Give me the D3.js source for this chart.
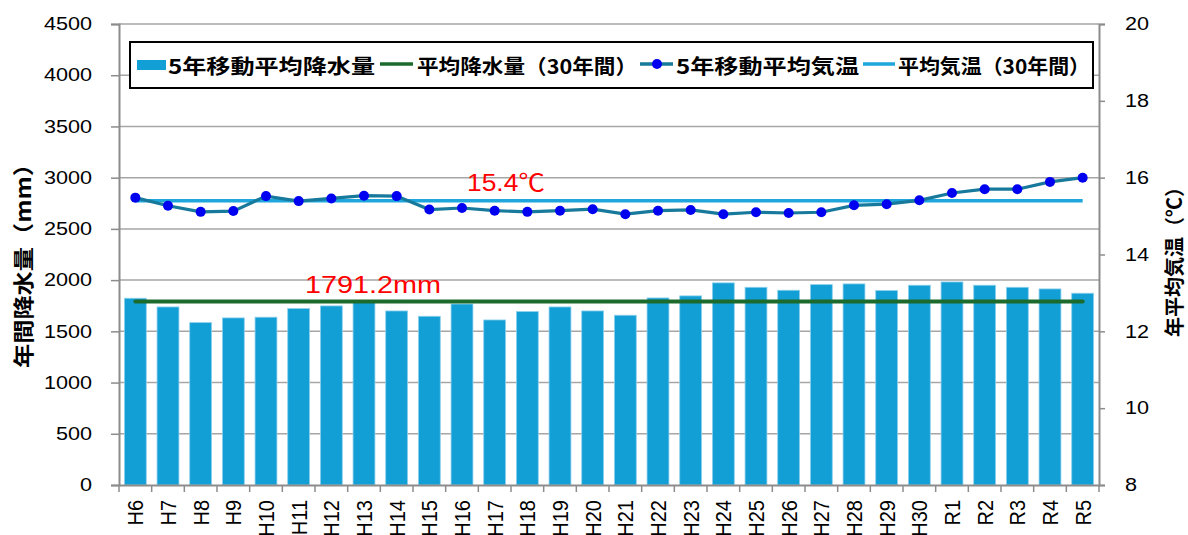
<!DOCTYPE html>
<html>
<head>
<meta charset="utf-8">
<script src="https://cdn.jsdelivr.net/npm/d3@7/dist/d3.min.js"></script>
<style>
  html, body { margin: 0; padding: 0; background: #fff; }
  svg { display: block; }
  text { font-family: "Liberation Sans", Arial, "Noto Sans CJK JP", sans-serif; }
  .cjk { font-family: "Noto Sans CJK JP", "Liberation Sans", sans-serif; }
</style>
</head>
<body>
<svg id="chart" width="1188" height="535"></svg>
<script>
// Fiscal years (Heisei 6 – Reiwa 5)
const categories = ["H6","H7","H8","H9","H10","H11","H12","H13","H14","H15","H16","H17","H18","H19","H20",
  "H21","H22","H23","H24","H25","H26","H27","H28","H29","H30","R1","R2","R3","R4","R5"];

// 5-year moving average of annual precipitation (mm)
const precipitation = [1823,1738,1585,1631,1638,1722,1748,1795,1699,1647,1767,1611,1693,1738,1699,
  1657,1826,1846,1973,1930,1901,1956,1963,1898,1950,1982,1950,1930,1914,1872];

// 5-year moving average of annual mean temperature (°C)
const temperature = [15.48,15.27,15.11,15.13,15.52,15.39,15.46,15.53,15.52,15.17,15.21,15.14,15.11,15.14,15.18,
  15.05,15.14,15.16,15.05,15.10,15.08,15.10,15.28,15.31,15.41,15.60,15.70,15.70,15.89,16.00];

// 30-year normals
const precipNormal = 1791.2;
const tempNormal = 15.4;

const precipTicks = [0,500,1000,1500,2000,2500,3000,3500,4000,4500];
const tempTicks = [8,10,12,14,16,18,20];

const legendLabels = ["5年移動平均降水量","平均降水量（30年間）","5年移動平均気温","平均気温（30年間）"];

const svg = d3.select("#chart");
const plotL = 119, plotR = 1099, plotT = 24, plotB = 485;
const STRETCH = 1.2;

function stretch(sel, k) {
  sel.each(function () {
    const w = this.getComputedTextLength();
    this.setAttribute("textLength", w * (k || STRETCH));
    this.setAttribute("lengthAdjust", "spacingAndGlyphs");
  });
}

const x = d3.scaleBand().domain(categories).range([plotL, plotR]).paddingInner(0.33).paddingOuter(0.165);
const yP = d3.scaleLinear().domain([0, 4500]).range([plotB, plotT]);
const yT = d3.scaleLinear().domain([8, 20]).range([plotB, plotT]);
const cx = d => x(d) + x.bandwidth() / 2;

// gridlines
svg.append("g").selectAll("line").data(precipTicks.filter(v => v > 0)).join("line")
  .attr("x1", plotL).attr("x2", plotR)
  .attr("y1", d => yP(d)).attr("y2", d => yP(d))
  .attr("stroke", "#a6a6a6").attr("stroke-width", 1.5);

// bars
svg.append("g").selectAll("rect").data(precipitation).join("rect")
  .attr("x", (d, i) => x(categories[i]))
  .attr("width", x.bandwidth())
  .attr("y", d => yP(d))
  .attr("height", d => yP(0) - yP(d))
  .attr("fill", "#129fd6")
  .attr("stroke", "#8fd0ec").attr("stroke-width", 0.8);

// left axis
const axL = svg.append("g").attr("transform", `translate(${plotL},0)`)
  .call(d3.axisLeft(yP).tickValues(precipTicks).tickSize(8).tickPadding(22).tickFormat(d3.format("d")));
axL.select(".domain").attr("stroke", "#8c8c8c").attr("stroke-width", 2);
axL.selectAll(".tick line").attr("stroke", "#8c8c8c").attr("stroke-width", 1.5);
axL.selectAll(".tick text").attr("font-size", 18).attr("fill", "#000").attr("x", -27)
  .attr("font-family", "Liberation Sans, Arial, sans-serif").call(stretch);

// right axis
const axR = svg.append("g").attr("transform", `translate(${plotR},0)`)
  .call(d3.axisRight(yT).tickValues(tempTicks).tickSize(6).tickFormat(d3.format("d")));
axR.select(".domain").attr("stroke", "#8c8c8c").attr("stroke-width", 2);
axR.selectAll(".tick line").attr("stroke", "#8c8c8c").attr("stroke-width", 1.5);
axR.selectAll(".tick text").attr("font-size", 18).attr("fill", "#000").attr("x", 26)
  .attr("font-family", "Liberation Sans, Arial, sans-serif").call(stretch);

// bottom axis
const axB = svg.append("g").attr("transform", `translate(0,${plotB})`)
  .call(d3.axisBottom(x).tickSize(0).tickPadding(0));
axB.select(".domain").attr("stroke", "#8c8c8c").attr("stroke-width", 2);
axB.selectAll(".tick text")
  .attr("font-size", 20).attr("fill", "#000")
  .attr("font-family", "Liberation Sans, Arial, sans-serif")
  .attr("text-anchor", "end").attr("dominant-baseline", "central")
  .attr("x", 0).attr("y", 0).attr("dy", null)
  .attr("transform", "translate(0,15) rotate(-90) scale(1,1.12)");
// category boundary tick marks
const bounds = categories.map(c => x(c) - (x.step() - x.bandwidth()) / 2).concat([plotR]);
axB.append("g").selectAll("line").data(bounds).join("line")
  .attr("x1", d => d).attr("x2", d => d).attr("y1", 0).attr("y2", 7)
  .attr("stroke", "#8c8c8c").attr("stroke-width", 1.5);

// normal precipitation line
const first = categories[0], last = categories[categories.length - 1];
svg.append("line")
  .attr("x1", cx(first)).attr("x2", cx(last))
  .attr("y1", yP(precipNormal)).attr("y2", yP(precipNormal))
  .attr("stroke", "#1d6b2c").attr("stroke-width", 4).attr("stroke-linecap", "round");

// normal temperature line
svg.append("line")
  .attr("x1", cx(first)).attr("x2", cx(last))
  .attr("y1", yT(tempNormal)).attr("y2", yT(tempNormal))
  .attr("stroke", "#1fa6dc").attr("stroke-width", 3.5);

// temperature series
const line = d3.line().x((d, i) => cx(categories[i])).y(d => yT(d));
svg.append("path").datum(temperature)
  .attr("d", line).attr("fill", "none")
  .attr("stroke", "#17799b").attr("stroke-width", 3.2);
svg.append("g").selectAll("circle").data(temperature).join("circle")
  .attr("cx", (d, i) => cx(categories[i])).attr("cy", d => yT(d)).attr("r", 5)
  .attr("fill", "#0000f0");

// value labels for normals
svg.append("text").attr("x", 467).attr("y", yT(tempNormal) - 10)
  .attr("font-size", 24).attr("fill", "#ff0000")
  .text(d3.format(".1f")(tempNormal) + "℃").call(stretch, 1.1);
svg.append("text").attr("x", 305).attr("y", yP(precipNormal) - 9)
  .attr("font-size", 24).attr("fill", "#ff0000")
  .text(d3.format(".1f")(precipNormal) + "mm").call(stretch);

// axis titles
svg.append("text").attr("class", "cjk")
  .attr("transform", "translate(22,260) rotate(-90)")
  .attr("text-anchor", "middle").attr("dominant-baseline", "central")
  .attr("font-size", 21).attr("font-weight", "bold")
  .attr("textLength", 216).attr("lengthAdjust", "spacingAndGlyphs")
  .text("年間降水量（mm）");
svg.append("text").attr("class", "cjk")
  .attr("transform", "translate(1173,257) rotate(-90)")
  .attr("text-anchor", "middle").attr("dominant-baseline", "central")
  .attr("font-size", 20).attr("font-weight", "bold")
  .attr("textLength", 160).attr("lengthAdjust", "spacingAndGlyphs")
  .text("年平均気温（℃）");

// legend
const lg = svg.append("g");
lg.append("rect").attr("x", 130).attr("y", 42).attr("width", 963).attr("height", 46)
  .attr("fill", "#fff").attr("stroke", "#000").attr("stroke-width", 2);
const ly = 65;
lg.append("rect").attr("x", 137).attr("y", ly - 5).attr("width", 29).attr("height", 10).attr("fill", "#129fd6");
lg.append("line").attr("x1", 380).attr("x2", 413).attr("y1", ly - 1).attr("y2", ly - 1)
  .attr("stroke", "#1d6b2c").attr("stroke-width", 3.5);
lg.append("line").attr("x1", 640).attr("x2", 673).attr("y1", ly - 1).attr("y2", ly - 1)
  .attr("stroke", "#17799b").attr("stroke-width", 3.5);
lg.append("circle").attr("cx", 657).attr("cy", ly - 1).attr("r", 5).attr("fill", "#0000f0");
lg.append("line").attr("x1", 863).attr("x2", 895).attr("y1", ly - 1).attr("y2", ly - 1)
  .attr("stroke", "#1fa6dc").attr("stroke-width", 3.5);

const legendPos = [[168, 207], [417, 220], [676, 183], [898, 192]];
lg.selectAll("text.lt").data(legendLabels).join("text")
  .attr("class", "lt cjk")
  .attr("x", (d, i) => legendPos[i][0]).attr("y", ly)
  .attr("dominant-baseline", "central")
  .attr("font-size", 20).attr("font-weight", "bold")
  .attr("textLength", (d, i) => legendPos[i][1]).attr("lengthAdjust", "spacingAndGlyphs")
  .text(d => d);
</script>
</body>
</html>
